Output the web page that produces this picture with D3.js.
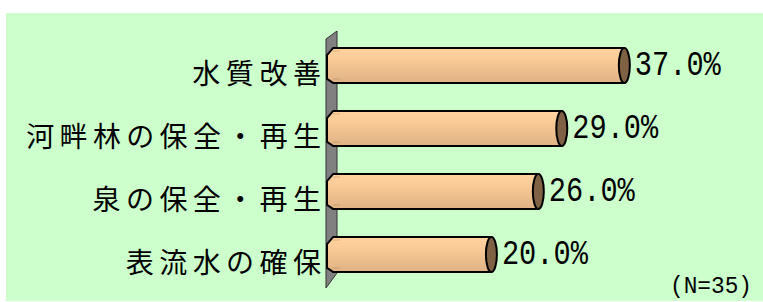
<!DOCTYPE html>
<html>
<head>
<meta charset="utf-8">
<script src="https://cdn.jsdelivr.net/npm/d3@7"></script>
<style>
  body { margin: 0; background: #fff; }
  svg { display: block; }
</style>
</head>
<body>
<div id="vis"></div>
<script>
const FRAME_WIDTH = 763;
const FRAME_HEIGHT = 302;

// data
const categories = ["水質改善", "河畔林の保全・再生", "泉の保全・再生", "表流水の確保"];
const values = [37.0, 29.0, 26.0, 20.0];
const noteText = "(N=35)";

const svg = d3.select("#vis")
  .append("svg")
  .attr("width", FRAME_WIDTH)
  .attr("height", FRAME_HEIGHT);

// green panel
svg.append("rect")
  .attr("x", 6).attr("y", 13)
  .attr("width", FRAME_WIDTH - 6).attr("height", 288)
  .attr("fill", "#ccffcc");

const defs = svg.append("defs");
const grad = defs.append("linearGradient")
  .attr("id", "barGrad")
  .attr("x1", 0).attr("y1", 0).attr("x2", 0).attr("y2", 1);
grad.append("stop").attr("offset", "0%").attr("stop-color", "#ffd29e");
grad.append("stop").attr("offset", "30%").attr("stop-color", "#fbcc98");
grad.append("stop").attr("offset", "55%").attr("stop-color", "#f0c290");
grad.append("stop").attr("offset", "100%").attr("stop-color", "#dfb285");

const X_SCALE = d3.scaleLinear().domain([0, 50]).range([340.5, 731.5]);
const Y_SCALE = d3.scaleBand()
  .domain(categories)
  .range([33.5, 285.5])
  .paddingInner(0.43)
  .paddingOuter(0.215);

// axis wall (3d)
const wallL = 326, wallR = 337;
svg.append("path")
  .attr("d", `M${wallL},39 L${wallR},31 L${wallR},273 L${wallL},288 Z`)
  .attr("fill", "#808080")
  .attr("stroke", "#333")
  .attr("stroke-width", 1);

const data = categories.map((c, i) => ({cat: c, val: values[i]}));
const CAP_RX = 5.5;

const bars = svg.selectAll("g.bar")
  .data(data)
  .enter()
  .append("g")
  .attr("class", "bar");

bars.append("path")
  .attr("d", d => {
    const y0 = Y_SCALE(d.cat), h = Y_SCALE.bandwidth();
    const xr = X_SCALE(d.val) - CAP_RX;
    return `M333,${y0 + 1} L${xr},${y0 + 1} L${xr},${y0 + h} L333,${y0 + h} ` +
      `L327,${y0 + h - 4} L327,${y0 + 8} Z`;
  })
  .attr("fill", "url(#barGrad)")
  .attr("stroke", "#000")
  .attr("stroke-width", 2)
  .attr("stroke-linejoin", "round");

// faint highlight lines near the left end
bars.append("line")
  .attr("x1", 333).attr("x2", 340)
  .attr("y1", d => Y_SCALE(d.cat) + 4)
  .attr("y2", d => Y_SCALE(d.cat) + 4)
  .attr("stroke", "#e0b080").attr("stroke-width", 1);
bars.append("line")
  .attr("x1", 333).attr("x2", 340)
  .attr("y1", d => Y_SCALE(d.cat) + Y_SCALE.bandwidth() - 4)
  .attr("y2", d => Y_SCALE(d.cat) + Y_SCALE.bandwidth() - 4)
  .attr("stroke", "#c8a070").attr("stroke-width", 1);

// end caps
bars.append("ellipse")
  .attr("cx", d => X_SCALE(d.val) - CAP_RX)
  .attr("cy", d => Y_SCALE(d.cat) + Y_SCALE.bandwidth() / 2 + 0.5)
  .attr("rx", CAP_RX)
  .attr("ry", d => Y_SCALE.bandwidth() / 2 - 0.5)
  .attr("fill", "#7f6144")
  .attr("stroke", "#000")
  .attr("stroke-width", 2);

// value labels
bars.append("text")
  .attr("x", d => X_SCALE(d.val) + 5)
  .attr("y", d => Y_SCALE(d.cat) + Y_SCALE.bandwidth() / 2 + 1)
  .attr("dominant-baseline", "central")
  .attr("font-family", "'Liberation Mono', monospace")
  .attr("font-size", 35)
  .attr("fill", "#000")
  .attr("textLength", 86)
  .attr("lengthAdjust", "spacingAndGlyphs")
  .text(d => d.val.toFixed(1) + "%");

// category labels
bars.append("text")
  .attr("x", 321)
  .attr("y", d => Y_SCALE(d.cat) + Y_SCALE.bandwidth() / 2 + 7)
  .attr("text-anchor", "end")
  .attr("dominant-baseline", "central")
  .attr("font-family", "'Noto Sans CJK JP', sans-serif")
  .attr("font-size", 28)
  .attr("fill", "#000")
  .attr("textLength", d => d.cat.length * 33.2 - 4)
  .attr("lengthAdjust", "spacing")
  .text(d => d.cat);

svg.append("text")
  .attr("x", 752)
  .attr("y", 286)
  .attr("text-anchor", "end")
  .attr("dominant-baseline", "central")
  .attr("font-family", "'Liberation Mono', monospace")
  .attr("font-size", 24)
  .attr("fill", "#000")
  .attr("textLength", 82)
  .attr("lengthAdjust", "spacingAndGlyphs")
  .text(noteText);
</script>
</body>
</html>
